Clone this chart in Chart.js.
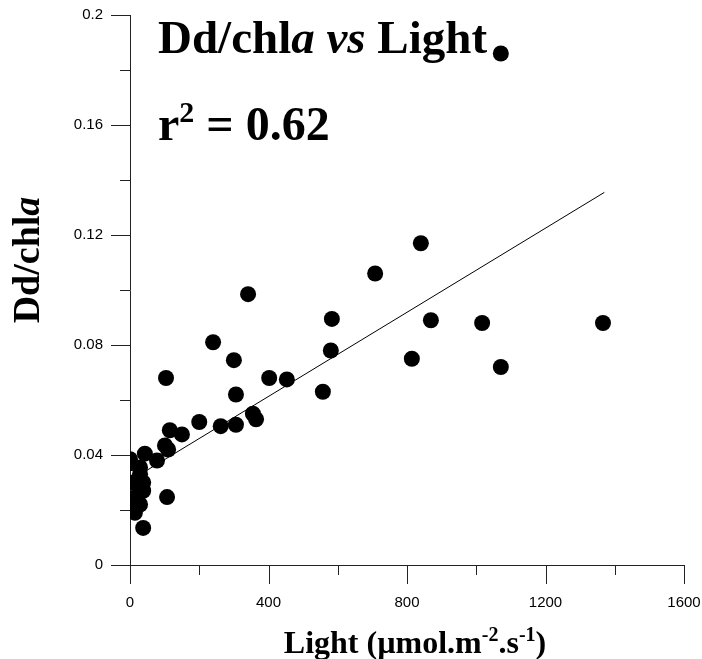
<!DOCTYPE html>
<html>
<head>
<meta charset="utf-8">
<script src="https://cdn.jsdelivr.net/npm/chart.js@4.4.1/dist/chart.umd.min.js"></script>
<style>
  html, body { margin: 0; padding: 0; background: #fff; }
  #wrap { width: 702px; height: 659px; }
</style>
</head>
<body>
<div id="wrap"><canvas id="c" width="702" height="659"></canvas></div>
<script>
// values
const light = [1071, 1366, 1017, 1071, 840, 708, 341, 583, 580, 869, 814, 240, 300, 306,
  402, 453, 557, 355, 364, 262, 306, 200, 104, 115, 150, 101, 110, 0, 0, 43, 78, 29, 29,
  9, 38, 38, 6, 14, 29, 14, 107, 38, 20, 3];
const ddChla = [0.186, 0.088, 0.088, 0.072, 0.117, 0.106, 0.0985, 0.0895, 0.078, 0.089,
  0.075, 0.081, 0.0745, 0.062, 0.068, 0.0675, 0.063, 0.055, 0.053, 0.0505, 0.051, 0.052,
  0.068, 0.049, 0.0475, 0.0435, 0.042, 0.0385, 0.037, 0.0405, 0.038, 0.0355, 0.033, 0.030,
  0.030, 0.027, 0.024, 0.021, 0.022, 0.019, 0.0247, 0.0135, 0.025, 0.023];

// regression line ends
const fitLight = [0, 1370];
const fitDd = [0.0307, 0.1355];

const xTickLabels = ['0', '400', '800', '1200', '1600'];
const yTickLabels = ['0', '0.04', '0.08', '0.12', '0.16', '0.2'];

const points = light.map((v, i) => ({ x: v, y: ddChla[i] }));
const fitPoints = fitLight.map((v, i) => ({ x: v, y: fitDd[i] }));

const serif = '"Liberation Serif", "Times New Roman", serif';
const tickFont = { family: '"Liberation Sans", Arial, sans-serif', size: 15 };

// draws a run of text pieces with their own font / vertical shift
function drawParts(ctx, parts, x, y) {
  let cx = x;
  parts.forEach(p => {
    ctx.font = p.font;
    ctx.fillText(p.t, cx, y + (p.dy || 0));
    cx += ctx.measureText(p.t).width;
  });
  return cx - x;
}

function partsWidth(ctx, parts) {
  let w = 0;
  parts.forEach(p => { ctx.font = p.font; w += ctx.measureText(p.t).width; });
  return w;
}

const tickMarks = {
  id: 'tickMarks',
  afterDraw(chart) {
    const ctx = chart.ctx;
    const xs = chart.scales.x, ys = chart.scales.y;
    const area = chart.chartArea;
    ctx.save();
    ctx.strokeStyle = '#222';
    ctx.lineWidth = 1;
    ctx.beginPath();
    xs.ticks.forEach(t => {
      const px = Math.round(xs.getPixelForValue(t.value)) + 0.5;
      const len = xTickLabels.includes(String(t.value)) ? 19 : 10;
      ctx.moveTo(px, area.bottom);
      ctx.lineTo(px, area.bottom + len);
    });
    ys.ticks.forEach(t => {
      const py = Math.round(ys.getPixelForValue(t.value)) + 0.5;
      const len = yTickLabels.includes(String(+t.value.toFixed(2))) ? 19 : 10;
      ctx.moveTo(area.left - len, py);
      ctx.lineTo(area.left, py);
    });
    ctx.stroke();

    // texts with italics and superscripts
    ctx.fillStyle = '#000';
    ctx.textBaseline = 'alphabetic';
    ctx.textAlign = 'left';
    const big = 'bold 47px ' + serif;
    const bigI = 'italic bold 47px ' + serif;
    drawParts(ctx, [
      { t: 'Dd/chl', font: big }, { t: 'a', font: bigI }, { t: ' ', font: big },
      { t: 'vs', font: bigI }, { t: ' Light', font: big }
    ], 158, 53);
    const rBig = 'bold 48px ' + serif;
    drawParts(ctx, [
      { t: 'r', font: rBig }, { t: '2', font: 'bold 30px ' + serif, dy: -18 },
      { t: ' = 0.62', font: rBig }
    ], 158, 140);

    const ax = 'bold 32px ' + serif;
    const axSup = 'bold 20px ' + serif;
    const xParts = [
      { t: 'Light (\u00b5mol.m', font: ax }, { t: '-2', font: axSup, dy: -12 },
      { t: '.s', font: ax }, { t: '-1', font: axSup, dy: -12 }, { t: ')', font: ax }
    ];
    const xw = partsWidth(ctx, xParts);
    drawParts(ctx, xParts, (area.left + area.right) / 2 + 8 - xw / 2, 653);

    const yParts = [{ t: 'Dd/chl', font: 'bold 38px ' + serif }, { t: 'a', font: 'italic bold 38px ' + serif }];
    const yw = partsWidth(ctx, yParts);
    ctx.translate(39, 260);
    ctx.rotate(-Math.PI / 2);
    drawParts(ctx, yParts, -yw / 2, 0);
    ctx.restore();
  }
};

new Chart(document.getElementById('c'), {
  type: 'scatter',
  data: {
    datasets: [
      {
        data: points,
        backgroundColor: '#000',
        borderColor: '#000',
        borderWidth: 0,
        pointRadius: 8,
        pointHoverRadius: 8
      },
      {
        type: 'line',
        data: fitPoints,
        borderColor: '#000',
        borderWidth: 1,
        pointRadius: 0,
        fill: false
      }
    ]
  },
  options: {
    responsive: false,
    animation: false,
    events: [],
    layout: { padding: { top: 15, right: 18, left: 0, bottom: 0 } },
    plugins: { legend: { display: false }, tooltip: { enabled: false }, title: { display: false } },
    scales: {
      x: {
        type: 'linear',
        min: 0,
        max: 1600,
        afterFit: s => { s.height = 94; s.paddingLeft = 0; s.paddingRight = 0; },
        grid: { display: false, drawTicks: false },
        border: { display: true, color: '#222', width: 1 },
        ticks: {
          stepSize: 200,
          padding: 29,
          color: '#000',
          font: tickFont,
          maxRotation: 0,
          callback: v => xTickLabels.includes(String(v)) ? String(v) : ''
        }
      },
      y: {
        type: 'linear',
        min: 0,
        max: 0.2,
        afterFit: s => { s.width = 130; s.paddingTop = 0; s.paddingBottom = 0; },
        grid: { display: false, drawTicks: false },
        border: { display: true, color: '#222', width: 1 },
        ticks: {
          stepSize: 0.02,
          padding: 27,
          color: '#000',
          font: tickFont,
          callback: v => {
            const s = String(+v.toFixed(2));
            return yTickLabels.includes(s) ? s : '';
          }
        }
      }
    }
  },
  plugins: [tickMarks]
});
</script>
</body>
</html>
